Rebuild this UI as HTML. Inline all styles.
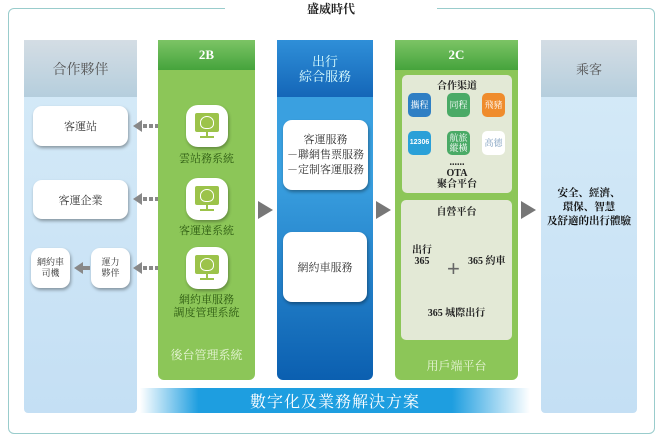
<!DOCTYPE html>
<html><head><meta charset="utf-8"><style>
*{margin:0;padding:0;box-sizing:border-box}
body{width:660px;height:439px;background:#fff;position:relative;overflow:hidden;font-family:"Liberation Serif","Noto Serif CJK SC","Noto Sans CJK TC",serif}
.a{position:absolute}
.c{display:flex;align-items:center;justify-content:center;text-align:center}
.wb{background:#fff;border-radius:9px;box-shadow:1px 2px 3px rgba(0,0,0,.35);color:#333;font-size:11px}
.ic{width:42px;height:42px;border-radius:12px;background:#fff;box-shadow:1px 2px 3px rgba(0,0,0,.3)}
.ic i{position:absolute;left:9px;top:8px;width:24px;height:19px;background:#9cc34a;border-radius:2px}
.ic i:after{content:"";position:absolute;left:5px;top:3px;width:12px;height:11px;border:1.5px solid #fff;border-radius:50% 50% 40% 40%}
.ic b{position:absolute;left:20px;top:27px;width:2px;height:5px;background:#9cc34a}
.ic s{position:absolute;left:14px;top:31px;width:14px;height:2px;background:#9cc34a}
.lb{font-size:11px;color:#2d5a12;text-align:center}
.ch{width:23px;height:24px;border-radius:5px;color:#fff;font-size:9px;line-height:10px}
.tri{width:0;height:0;border-top:9px solid transparent;border-bottom:9px solid transparent;border-left:15px solid #777}
.dl{width:0;height:0;border-top:6px solid transparent;border-bottom:6px solid transparent;border-right:9px solid #888}
.dash{height:4px;width:24px;background:repeating-linear-gradient(90deg,#888 0 4px,transparent 4px 6px)}
</style></head><body>
<div class="a" style="left:8px;top:8px;width:647px;height:426px;border:1px solid #9cc;border-radius:6px"></div>
<div class="a" style="left:225px;top:0;width:212px;height:12px;background:#fff"></div>
<div class="a" style="left:225px;top:0;width:212px;font-size:12px;font-weight:bold;text-align:center;color:#222">盛威時代</div>

<!-- left col -->
<div class="a" style="left:24px;top:40px;width:113px;height:373px;background:linear-gradient(#d6ebf8,#c4dff4);border-radius:0 0 4px 4px"></div>
<div class="a c" style="left:24px;top:40px;width:113px;height:57px;background:linear-gradient(#d4dde4,#b5cedd);color:#555;font-size:14px">合作夥伴</div>
<div class="a c wb" style="left:33px;top:106px;width:95px;height:40px">客運站</div>
<div class="a c wb" style="left:33px;top:180px;width:95px;height:39px">客運企業</div>
<div class="a c wb" style="left:31px;top:248px;width:39px;height:40px;font-size:9px;line-height:11px">網約車<br>司機</div>
<div class="a c wb" style="left:91px;top:248px;width:39px;height:40px;font-size:9px;line-height:11px">運力<br>夥伴</div>
<div class="a dl" style="left:74px;top:262px"></div><div class="a" style="left:82px;top:266px;width:8px;height:4px;background:#888"></div>
<div class="a dl" style="left:133px;top:120px"></div><div class="a dash" style="left:143px;top:124px"></div>
<div class="a dl" style="left:133px;top:193px"></div><div class="a dash" style="left:143px;top:197px"></div>
<div class="a dl" style="left:133px;top:262px"></div><div class="a dash" style="left:143px;top:266px"></div>

<!-- 2B -->
<div class="a" style="left:158px;top:40px;width:97px;height:340px;background:#8cc658;border-radius:0 0 6px 6px"></div>
<div class="a c" style="left:158px;top:40px;width:97px;height:30px;background:linear-gradient(#7cc465,#45a33c);color:#fff;font-weight:bold;font-size:13px">2B</div>
<div class="a ic" style="left:186px;top:105px"><i></i><b></b><s></s></div>
<div class="a lb" style="left:158px;top:150px;width:97px">雲站務系統</div>
<div class="a ic" style="left:186px;top:178px"><i></i><b></b><s></s></div>
<div class="a lb" style="left:158px;top:222px;width:97px">客運達系統</div>
<div class="a ic" style="left:186px;top:247px"><i></i><b></b><s></s></div>
<div class="a lb" style="left:158px;top:294px;width:97px;line-height:13px">網約車服務<br>調度管理系統</div>
<div class="a" style="left:158px;top:346px;width:97px;text-align:center;color:#e8f5d8;font-size:12px">後台管理系統</div>

<!-- blue -->
<div class="a" style="left:277px;top:40px;width:96px;height:340px;background:linear-gradient(#3aa0e0 40%,#0b5fb0);border-radius:0 0 6px 6px"></div>
<div class="a c" style="left:277px;top:40px;width:96px;height:57px;background:linear-gradient(#2f8fd8,#1466b8);color:#dff;font-size:13px;line-height:15px">出行<br>綜合服務</div>
<div class="a c wb" style="left:283px;top:120px;width:85px;height:70px;line-height:15px;font-size:11px">客運服務<br>－聯網售票服務<br>－定制客運服務</div>
<div class="a c wb" style="left:283px;top:232px;width:84px;height:70px">網約車服務</div>

<!-- 2C -->
<div class="a" style="left:395px;top:40px;width:123px;height:340px;background:#8cc658;border-radius:0 0 6px 6px"></div>
<div class="a c" style="left:395px;top:40px;width:123px;height:30px;background:linear-gradient(#7cc465,#45a33c);color:#fff;font-weight:bold;font-size:13px">2C</div>
<div class="a" style="left:402px;top:75px;width:110px;height:118px;background:#e3e9d6;border-radius:5px"></div>
<div class="a" style="left:402px;top:77px;width:110px;text-align:center;font-size:10px;font-weight:bold;color:#222">合作渠道</div>
<div class="a c ch" style="left:408px;top:93px;background:#2f7fc4">攜程</div>
<div class="a c ch" style="left:447px;top:93px;background:#4aaa66">同程</div>
<div class="a c ch" style="left:482px;top:93px;background:#ef8c2c">飛豬</div>
<div class="a c ch" style="left:408px;top:131px;background:#2aa0d8;font-family:'Liberation Sans',sans-serif;font-size:7px;font-weight:bold">12306</div>
<div class="a c ch" style="left:447px;top:131px;background:#4aaa66">航旅<br>縱橫</div>
<div class="a c ch" style="left:482px;top:131px;background:#fff;color:#7799bb">高德</div>
<div class="a" style="left:402px;top:157px;width:110px;text-align:center;font-size:10px;font-weight:bold;line-height:11px;color:#222">......<br>OTA<br>聚合平台</div>
<div class="a" style="left:401px;top:200px;width:111px;height:140px;background:#e3e9d6;border-radius:5px"></div>
<div class="a" style="left:401px;top:203px;width:111px;text-align:center;font-size:10px;font-weight:bold;color:#222">自營平台</div>
<div class="a" style="left:412px;top:245px;font-size:10px;font-weight:bold;line-height:11px;text-align:center;color:#222">出行<br>365</div>
<div class="a" style="left:468px;top:252px;font-size:10px;font-weight:bold;color:#222">365 約車</div>
<div class="a" style="left:447px;top:256px;font-size:22px;color:#666;font-family:'Liberation Sans',sans-serif">+</div>
<div class="a" style="left:401px;top:304px;width:111px;text-align:center;font-size:10px;font-weight:bold;color:#222">365 城際出行</div>
<div class="a" style="left:395px;top:357px;width:123px;text-align:center;color:#e8f5d8;font-size:12px">用戶端平台</div>

<!-- 乘客 -->
<div class="a" style="left:541px;top:40px;width:96px;height:373px;background:linear-gradient(#d6ebf8,#c4dff4);border-radius:0 0 4px 4px"></div>
<div class="a c" style="left:541px;top:40px;width:96px;height:57px;background:linear-gradient(#d4dde4,#b5cedd);color:#555;font-size:13px">乘客</div>
<div class="a" style="left:541px;top:187px;width:96px;text-align:center;font-size:10.5px;font-weight:bold;line-height:14px;color:#111">安全、經濟、<br>環保、智慧<br>及舒適的出行體驗</div>

<!-- arrows -->
<div class="a tri" style="left:258px;top:201px"></div>
<div class="a tri" style="left:376px;top:201px"></div>
<div class="a tri" style="left:521px;top:201px"></div>

<!-- banner -->
<div class="a c" style="left:140px;top:388px;width:390px;height:25px;background:linear-gradient(90deg,rgba(40,160,225,0),#1e9ee0 15%,#1e9ee0 80%,rgba(40,160,225,0));color:#fff;font-size:16px;letter-spacing:1px">數字化及業務解決方案</div>
</body></html>
